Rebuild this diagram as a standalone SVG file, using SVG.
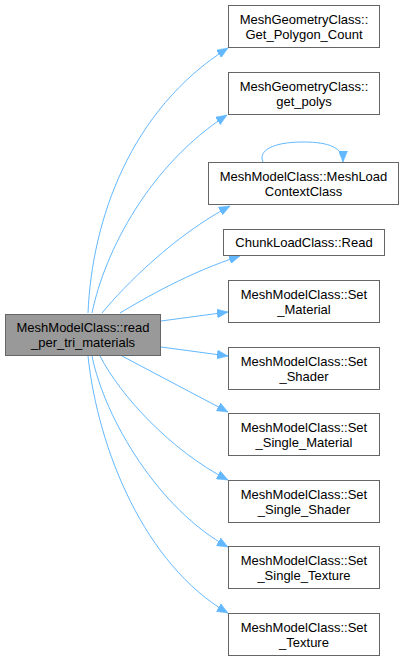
<svg xmlns="http://www.w3.org/2000/svg" width="404" height="661" viewBox="0 0 404 661">
<style>
.n rect{fill:#ffffff;stroke:#666666;stroke-width:1}
#main rect{fill:#999999;stroke:#666666}
text{font-family:"Liberation Sans",Arial,sans-serif;font-size:13px;fill:#000;text-anchor:middle}
.e path{fill:none;stroke:#63b8ff;stroke-width:1;marker-end:url(#ah)}
</style>
<defs>
<marker id="ah" markerUnits="userSpaceOnUse" markerWidth="12" markerHeight="9" refX="11" refY="4.5" orient="auto">
<path d="M0,0 L11,4.5 L0,9 z" fill="#63b8ff" stroke="#63b8ff" stroke-width="0.5"/>
</marker>
</defs>
<rect width="404" height="661" fill="#ffffff"/>
<g id="edges" class="e">
<path d="M88,313 C92,220 130,110 228,48"/>
<path d="M92,313 C105,250 150,165 227,115"/>
<path d="M102,313 C125,285 175,235 230,206"/>
<path d="M120,313 C145,298 190,272 240,256"/>
<path d="M161,321 L228,312"/>
<path d="M161,347 L228,356"/>
<path d="M122,356 L228,412"/>
<path d="M100,356 C120,395 170,450 228,480"/>
<path d="M92,356 C105,420 160,510 228,547"/>
<path d="M88,356 C98,450 145,565 228,613"/>
<path d="M263,162 C258,151 272,142 303,142 C330,142 343,148 343,162"/>
</g>
<g id="main" class="n"><rect x="5.5" y="314.5" width="155" height="41"/><text x="83" y="332">MeshModelClass::read</text><text x="83" y="347">_per_tri_materials</text></g>
<g id="n1" class="n"><rect x="228.5" y="5.5" width="151" height="42"/><text x="304" y="23.5">MeshGeometryClass::</text><text x="304" y="38.5">Get_Polygon_Count</text></g>
<g id="n2" class="n"><rect x="228.5" y="72.5" width="151" height="42"/><text x="304" y="90.5">MeshGeometryClass::</text><text x="304" y="105.5">get_polys</text></g>
<g id="n3" class="n"><rect x="208.5" y="162.5" width="190" height="42"/><text x="303.5" y="180.5">MeshModelClass::MeshLoad</text><text x="303.5" y="195.5">ContextClass</text></g>
<g id="n4" class="n"><rect x="223.5" y="229.5" width="161" height="26"/><text x="304" y="247">ChunkLoadClass::Read</text></g>
<g id="n5" class="n"><rect x="228.5" y="280.5" width="151" height="42"/><text x="304" y="298.5">MeshModelClass::Set</text><text x="304" y="313.5">_Material</text></g>
<g id="n6" class="n"><rect x="228.5" y="347.5" width="151" height="42"/><text x="304" y="365.5">MeshModelClass::Set</text><text x="304" y="380.5">_Shader</text></g>
<g id="n7" class="n"><rect x="228.5" y="413.5" width="151" height="42"/><text x="304" y="431.5">MeshModelClass::Set</text><text x="304" y="446.5">_Single_Material</text></g>
<g id="n8" class="n"><rect x="228.5" y="480.5" width="151" height="42"/><text x="304" y="498.5">MeshModelClass::Set</text><text x="304" y="513.5">_Single_Shader</text></g>
<g id="n9" class="n"><rect x="228.5" y="546.5" width="151" height="42"/><text x="304" y="564.5">MeshModelClass::Set</text><text x="304" y="579.5">_Single_Texture</text></g>
<g id="n10" class="n"><rect x="228.5" y="613.5" width="151" height="42"/><text x="304" y="631.5">MeshModelClass::Set</text><text x="304" y="646.5">_Texture</text></g>
</svg>
